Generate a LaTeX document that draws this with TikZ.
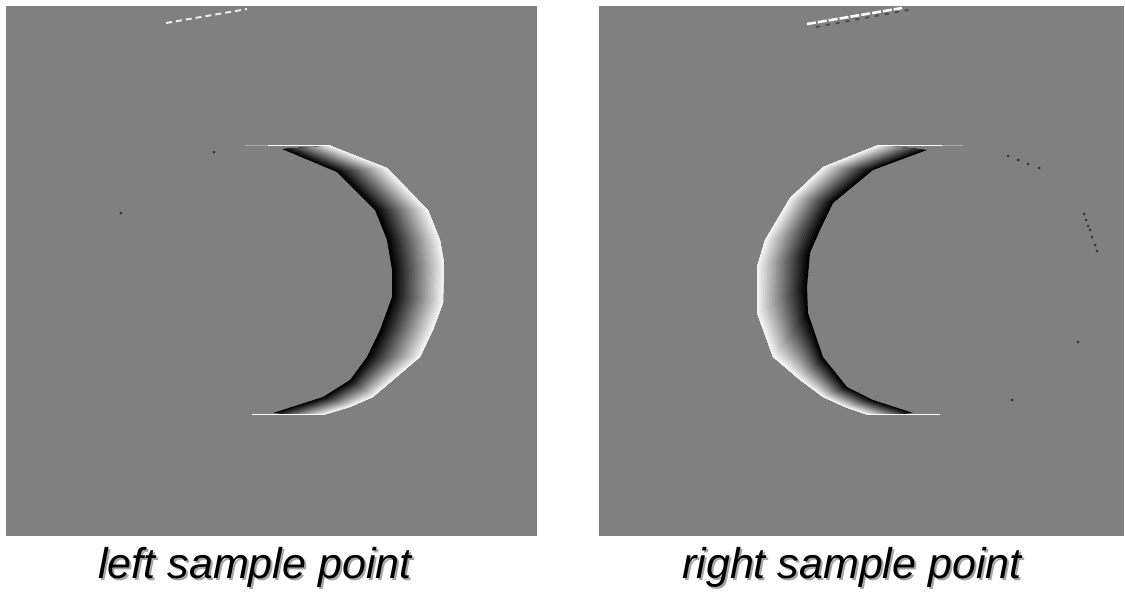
\documentclass[tikz,border=0pt]{standalone}
\usepackage{fontspec}
\setmainfont{Liberation Sans}
\usetikzlibrary{calc}
\definecolor{abu}{RGB}{128,128,128}
\definecolor{bayang}{RGB}{165,165,165}

% sabit bergradasi: hitam di tepi dalam, putih di tepi luar
\newcommand{\sabit}[1]{%
  \foreach \t in {0,0.04,...,0.97}{
    \pgfmathtruncatemacro{\g}{100*\t}
    \fill[white!\g!black] ($(#1i1)!\t!(#1o1)$)
      \foreach \i in {2,...,11}{ -- ($(#1i\i)!\t!(#1o\i)$)}
      \foreach \i in {11,...,1}{ -- (#1o\i)} -- cycle;
  }}

\begin{document}
\begin{tikzpicture}[x=1pt,y=-1pt,
    panel/.style={fill=abu},
    titik/.style={fill=black!80},
    garis/.style={white,line width=1.6pt},
    samar/.style={white!35!abu,line width=1pt},
    ket/.style={anchor=base,font=\fontsize{43}{50}\selectfont\itshape}]
  \useasboundingbox[fill=white] (0,0) rectangle (1125,592);

  % Panel kiri: titik sampel kiri
  \fill[panel] (6,6) rectangle (537,536);
  \foreach \x/\y [count=\i] in {282/149,337/172,375/210,387/240,392/270,
      392/297,380/330,367/357,350/380,323/397,273/413}
    \coordinate (Li\i) at (\x,\y);
  \foreach \x/\y [count=\i] in {331/146,387/168,428/210,440/240,444/263,
      443/303,433/330,420/357,373/397,350/407,323/415}
    \coordinate (Lo\i) at (\x,\y);
  \sabit{L}
  \draw[samar] (245,145.5) -- (268,145.5);
  \draw[garis] (268,145.5) -- (331,145.5);
  \draw[garis] (252,414.5) -- (323,414.5);
  \draw[white!85!abu,line width=2pt,dash pattern=on 6pt off 4pt] (166,23) -- (247,9);
  \fill[titik] (214,152) circle (1.5);
  \fill[titik] (121,213) circle (1.5);

  % Panel kanan: titik sampel kanan
  \fill[panel] (599,6) rectangle (1124,536);
  \foreach \x/\y [count=\i] in {927/150,873/170,833/203,820/230,810/253,
      807/287,808/313,823/357,847/387,873/400,913/413}
    \coordinate (Ri\i) at (\x,\y);
  \foreach \x/\y [count=\i] in {878/145,823/167,790/198,765/240,757/267,
      757/313,773/357,800/380,823/397,845/407,868/415}
    \coordinate (Ro\i) at (\x,\y);
  \sabit{R}
  \draw[samar] (942,145.5) -- (963,145.5);
  \draw[garis] (878,145.5) -- (942,145.5);
  \draw[garis] (868,414.5) -- (940,414.5);
  \draw[black!70,line width=2pt,dash pattern=on 4pt off 6pt] (816,27) -- (913,9);
  \draw[white,line width=2.5pt,dash pattern=on 9pt off 2pt] (807,24) -- (902,8);
  \foreach \x/\y in {1008/156,1018/160,1028/164,1039/168,
      1084/214,1086/220,1088/226,1090/230,1092/237,1095/245,1097/251,
      1078/342,1012/400}
    \fill[titik] (\x,\y) circle (1.5);

  % Keterangan dengan bayangan
  \node[ket,text=bayang] (kiriB) at (257,580) {left sample point};
  \node[ket] (kiri) at (255,578) {left sample point};
  \node[ket,text=bayang] (kananB) at (854,580) {right sample point};
  \node[ket] (kanan) at (852,578) {right sample point};
\end{tikzpicture}
\end{document}
